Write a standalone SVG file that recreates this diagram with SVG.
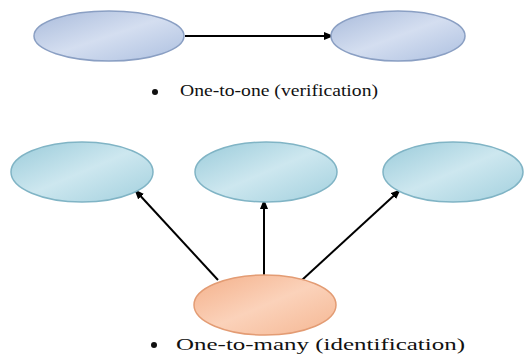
<svg xmlns="http://www.w3.org/2000/svg" width="530" height="360" viewBox="0 0 530 360">
<defs>
<linearGradient id="gBlue" x1="0" y1="0" x2="1" y2="1">
<stop offset="0" stop-color="#a9bbdb"/><stop offset="0.5" stop-color="#d4def0"/><stop offset="1" stop-color="#adc0e0"/>
</linearGradient>
<linearGradient id="gCyan" x1="0" y1="0" x2="1" y2="1">
<stop offset="0" stop-color="#9acbda"/><stop offset="0.5" stop-color="#cde7ef"/><stop offset="1" stop-color="#a2d0de"/>
</linearGradient>
<linearGradient id="gOrange" x1="0" y1="0" x2="1" y2="1">
<stop offset="0" stop-color="#f4b08a"/><stop offset="0.5" stop-color="#fbd2ba"/><stop offset="1" stop-color="#f5b793"/>
</linearGradient>
<marker id="arr" markerWidth="10" markerHeight="8" refX="9" refY="4" orient="auto" markerUnits="userSpaceOnUse">
<path d="M0,0 L10,4 L0,8 Z" fill="#000"/>
</marker>
</defs>
<style>
.blue{fill:url(#gBlue);stroke:#8a9fc3;stroke-width:1.5}
.cyan{fill:url(#gCyan);stroke:#80b4c5;stroke-width:1.5}
.orange{fill:url(#gOrange);stroke:#e39c74;stroke-width:1.5}
.conn{stroke:#000;stroke-width:2;fill:none;marker-end:url(#arr)}
</style>
<rect width="530" height="360" fill="#fff"/>
<g id="connectors">
<line class="conn" x1="185" y1="36" x2="333" y2="36"/>
<line class="conn" x1="218" y1="280" x2="135" y2="190"/>
<line class="conn" x1="264" y1="275" x2="264" y2="200"/>
<line class="conn" x1="302" y1="280" x2="400" y2="190"/>
</g>
<g id="node-top-left"><ellipse class="blue" cx="109" cy="36" rx="75" ry="25"/></g>
<g id="node-top-right"><ellipse class="blue" cx="398" cy="36" rx="67" ry="25"/></g>
<g id="node-bottom-left"><ellipse class="cyan" cx="82" cy="172" rx="71" ry="30"/></g>
<g id="node-bottom-middle"><ellipse class="cyan" cx="266" cy="172" rx="71" ry="30"/></g>
<g id="node-bottom-right"><ellipse class="cyan" cx="453" cy="172" rx="70" ry="30"/></g>
<g id="node-source"><ellipse class="orange" cx="265" cy="305" rx="71" ry="30"/></g>
<g id="label-top">
<circle cx="155" cy="92" r="3" fill="#111"/>
<text x="180" y="96" font-family="'Liberation Serif', 'DejaVu Serif', serif" font-size="17" fill="#111" textLength="198" lengthAdjust="spacingAndGlyphs">One-to-one (verification)</text>
</g>
<g id="label-bottom">
<circle cx="154" cy="345" r="3" fill="#111"/>
<text x="176" y="350" font-family="'Liberation Serif', 'DejaVu Serif', serif" font-size="17" fill="#111" textLength="289" lengthAdjust="spacingAndGlyphs">One-to-many (identification)</text>
</g>
</svg>
